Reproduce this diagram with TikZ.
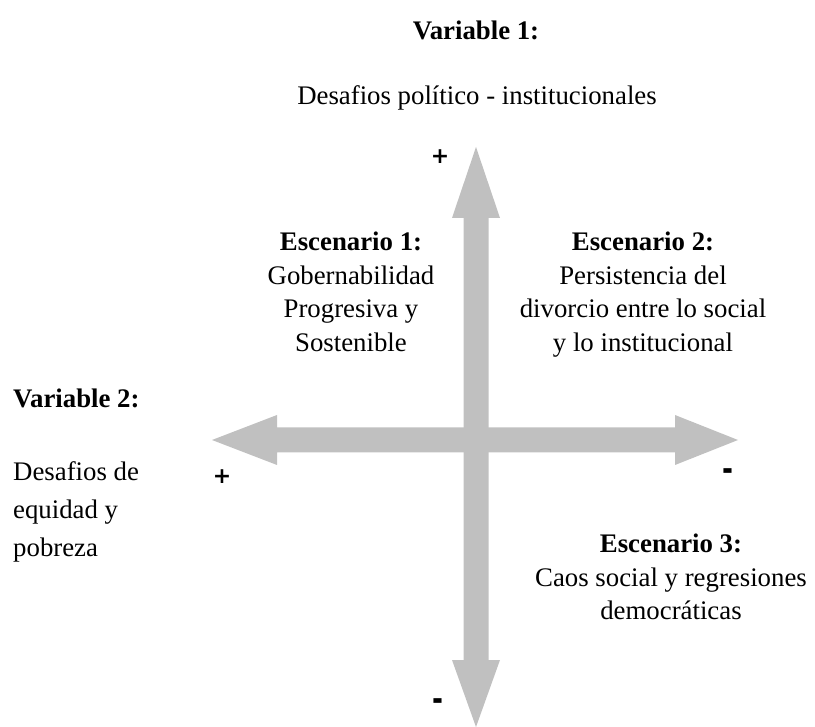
\documentclass[tikz,border=0pt]{standalone}
\usepackage{fontspec}
\usepackage{graphicx}
\setmainfont{Liberation Serif}
\newfontfamily\signfont{DejaVu Sans}
\definecolor{arrowgray}{RGB}{192,192,192}
\begin{document}
\begin{tikzpicture}[x=1pt,y=-1pt,
  txt/.style={inner sep=0pt, font=\fontsize{26.8}{33.5}\selectfont},
  sign/.style={inner sep=0pt, font=\fontsize{22}{24}\signfont\bfseries},
  axisarrow/.style={fill=arrowgray, draw=none}]
\useasboundingbox (0,0) rectangle (815,727);
% axis geometry
\coordinate (O) at (476,440);
% vertical double arrow
\fill[axisarrow] (476,147) -- (500,218) -- (488.5,218) -- (488.5,660) -- (500,660)
  -- (476,727) -- (452,660) -- (463.5,660) -- (463.5,218) -- (452,218) -- cycle;
% horizontal double arrow
\fill[axisarrow] (212,440) -- (277,415) -- (277,427.5) -- (675,427.5) -- (675,415)
  -- (738,440) -- (675,465) -- (675,452.5) -- (277,452.5) -- (277,465) -- cycle;
% titles
\node[txt, anchor=base] (var1) at (476,40) {\textbf{Variable 1:}};
\node[txt, anchor=base] (desc1) at (477,105) {Desafios político - institucionales};
\node[txt, anchor=base west] (var2) at (13,408) {\textbf{Variable 2:}};
\node[txt, anchor=north west, align=left, font=\fontsize{26.8}{38}\selectfont] (desc2) at (13,461)
  {Desafios de\\equidad y\\pobreza};
% scenarios
\node[txt, anchor=north, align=center] (esc1) at (351,232)
  {\textbf{Escenario 1:}\\Gobernabilidad\\Progresiva y\\Sostenible};
\node[txt, anchor=north, align=center] (esc2) at (643,232)
  {\textbf{Escenario 2:}\\Persistencia del\\divorcio entre lo social\\y lo institucional};
\node[txt, anchor=north, align=center] (esc3) at (671,534)
  {\textbf{Escenario 3:}\\Caos social y regresiones\\democráticas};
% signs
\node[sign] (ptop) at (440,157) {+};
\node[sign] (pleft) at (222,477) {+};
\node[sign] (mright) at (728,475) {\scalebox{1.2}[1.5]{-}};
\node[sign] (mbottom) at (438,705) {\scalebox{1.2}[1.5]{-}};
\end{tikzpicture}
\end{document}
